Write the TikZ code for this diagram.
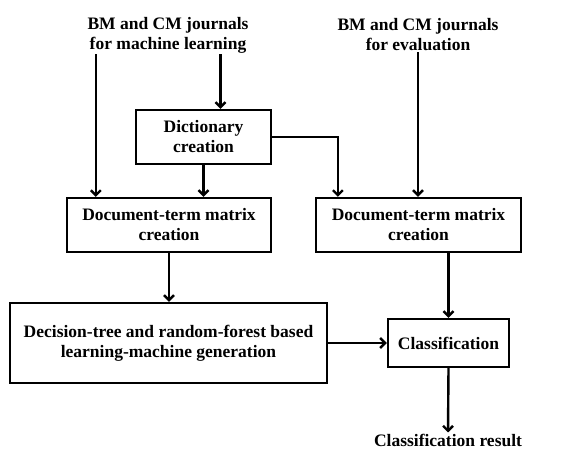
\documentclass[tikz,border=0pt]{standalone}
\usepackage{fontspec}
\setmainfont{Liberation Serif}
\usetikzlibrary{positioning,arrows.meta,calc}

\begin{document}
\begin{tikzpicture}[
  x=1pt, y=-1pt,
  every node/.style={font=\fontsize{17.5}{20}\selectfont\bfseries},
  blk/.style={draw, line width=2.3pt, align=center, inner sep=0pt},
  txt/.style={align=center, inner sep=1pt},
  arr/.style={-{Straight Barb[length=5pt,width=10pt,line width=2.4pt]}, line width=2.4pt}
]
\useasboundingbox (0,0) rectangle (583,450);
\node[txt] (jml) at (168,35) {BM and CM journals\\for machine learning};
\node[txt] (jev) at (418,35) {BM and CM journals\\for evaluation};
\node[blk, minimum width=135pt, minimum height=54pt] (dict) at (203.5,137)
  {Dictionary\\creation};
\node[blk, minimum width=204pt, minimum height=54pt] (dtmL) at (169,225)
  {Document-term matrix\\creation};
\node[blk, minimum width=205pt, minimum height=54pt] (dtmR) at (418.5,225)
  {Document-term matrix\\creation};
\node[blk, minimum width=317pt, minimum height=80pt] (lmg) at (168.5,343)
  {Decision-tree and random-forest based\\learning-machine generation};
\node[blk, minimum width=121pt, minimum height=48pt] (cls) at (448.5,343)
  {Classification};
\node[txt, anchor=base, inner sep=1pt] (res) at (448,446) {Classification result};
\draw[arr] ([xshift=30pt]dtmL.north west |- jml.south) -- ([xshift=30pt]dtmL.north west);
\draw[arr] ([xshift=17pt]dict.north |- jml.south) -- ([xshift=17pt]dict.north);
\draw[arr] (dict.south) -- (dict.south |- dtmL.north);
\draw[arr] (dict.east) -| ([xshift=23pt]dtmR.north west);
\draw[arr] (jev.south) -- (jev.south |- dtmR.north);
\draw[arr] (dtmL.south) -- (dtmL.south |- lmg.north);
\draw[arr] (dtmR.south -| cls.north) -- (cls.north);
\draw[arr] (lmg.east) -- (cls.west);
\draw[arr] (cls.south) -- (res.north);
\end{tikzpicture}
\end{document}
